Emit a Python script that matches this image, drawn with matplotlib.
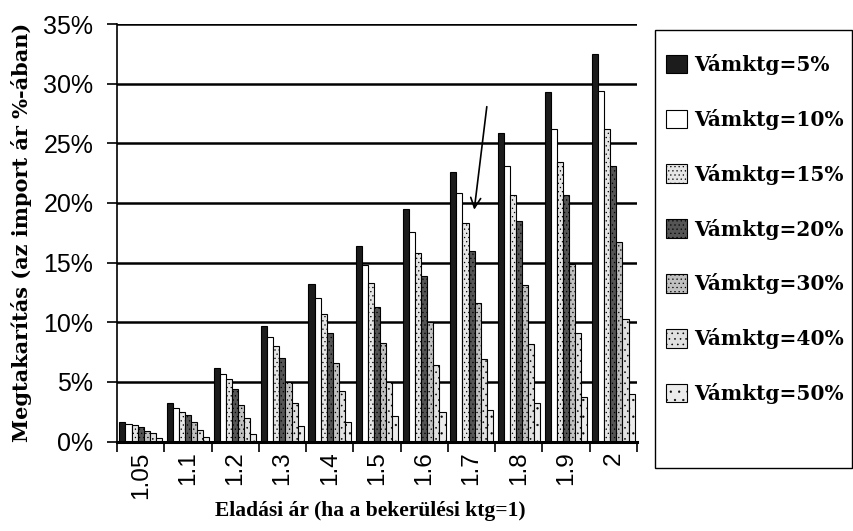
import numpy as np
import matplotlib
matplotlib.use('Agg')
import matplotlib.pyplot as plt
from matplotlib.patches import Rectangle
from matplotlib.ticker import FuncFormatter

# eladási ár (ha a bekerülési ktg=1)
prices = ['1.05', '1.1', '1.2', '1.3', '1.4', '1.5', '1.6', '1.7', '1.8', '1.9', '2']
tariffs = ['Vámktg=5%', 'Vámktg=10%', 'Vámktg=15%', 'Vámktg=20%',
           'Vámktg=30%', 'Vámktg=40%', 'Vámktg=50%']

# megtakarítás, az import ár %-ában
v05 = [1.6, 3.2, 6.2, 9.7, 13.2, 16.4, 19.5, 22.6, 25.9, 29.3, 32.5]
v10 = [1.45, 2.8, 5.7, 8.8, 12.0, 14.8, 17.6, 20.8, 23.1, 26.2, 29.4]
v15 = [1.35, 2.5, 5.2, 8.0, 10.7, 13.3, 15.8, 18.3, 20.7, 23.4, 26.2]
v20 = [1.2, 2.25, 4.4, 7.0, 9.1, 11.3, 13.9, 16.0, 18.5, 20.7, 23.1]
v30 = [0.85, 1.65, 3.1, 4.95, 6.6, 8.25, 10.0, 11.6, 13.1, 14.9, 16.7]
v40 = [0.7, 0.95, 2.0, 3.2, 4.2, 5.0, 6.4, 6.9, 8.2, 9.1, 10.3]
v50 = [0.3, 0.35, 0.65, 1.3, 1.65, 2.1, 2.5, 2.6, 3.2, 3.7, 4.0]
series = [v05, v10, v15, v20, v30, v40, v50]

# (facecolor, hatch) - imitating the old printer fill patterns
styles = [('#1c1c1c', None), ('white', None), ('#e6e6e6', '....'),
          ('#555555', '....'), ('#c0c0c0', '....'), ('#e0e0e0', '...'),
          ('#ebebeb', '..')]

plt.rcParams['hatch.linewidth'] = 0.4
serif = ['DejaVu Serif']
serif2 = ['Liberation Serif', 'DejaVu Serif']
sans = ['Liberation Sans', 'DejaVu Sans']

fig = plt.figure(figsize=(8.54, 5.31), dpi=100)
ax = fig.add_axes([117/854, 1-441.5/531, 520/854, 417.5/531])

x = np.arange(len(prices))
n = len(series)
w = 0.9/n
for i, (vals, lab, (fc, h)) in enumerate(zip(series, tariffs, styles)):
    ax.bar(x + (i - (n-1)/2)*w, vals, w, color=fc, hatch=h,
           edgecolor='black', linewidth=0.8, label=lab, zorder=3)

ax.set_xlim(-0.5, len(prices)-0.5)
ax.set_ylim(0, 35)
ax.set_yticks(np.arange(0, 36, 5))
ax.yaxis.set_major_formatter(FuncFormatter(lambda v, p: f'{v:.0f}%'))
ax.grid(axis='y', color='black', linewidth=1.8, zorder=0)
ax.set_axisbelow(True)
for s in ['top', 'right']:
    ax.spines[s].set_visible(False)
ax.spines['left'].set_linewidth(1.2)
ax.spines['bottom'].set_linewidth(2.2)
ax.spines['bottom'].set_zorder(4)

ax.set_xticks(x)
ax.set_xticklabels(prices, rotation=90, family=sans, fontsize=17.5)
ax.set_xticks(np.arange(-0.5, len(prices)), minor=True)
ax.tick_params(axis='x', which='major', length=0, pad=7)
ax.tick_params(axis='x', which='minor', length=7, width=1.2, color='black')
ax.tick_params(axis='y', length=7, width=1.2, pad=10, labelsize=18)
for t in ax.get_yticklabels():
    t.set_family(sans)

ax.set_xlabel('Eladási ár (ha a bekerülési ktg=1)', family=serif2,
              fontweight='bold', fontsize=15.5)
ax.xaxis.set_label_coords(0.487, -0.142)
ax.set_ylabel('Megtakarítás (az import ár %-ában)', family=serif,
              fontweight='bold', fontsize=15)
ax.yaxis.set_label_coords(-0.163, 0.5)

# arrow pointing at the 15% bar of the 1.7 group
k = prices.index('1.7')
ax.annotate('', xy=(k + 0.05, v15[k] + 0.9), xytext=(k + 0.33, v15[k] + 10),
            arrowprops=dict(arrowstyle='->', color='black', lw=1.2,
                            mutation_scale=18))

# legend box drawn separately (it is taller than its entries)
fig.patches.append(Rectangle((655/854, 1-468/531), 197/854, 438/531,
                             transform=fig.transFigure, fill=False,
                             edgecolor='black', linewidth=1.0))
leg = fig.legend(loc='upper left', bbox_to_anchor=(666/854, 1-54/531),
                 frameon=False, prop=dict(family=serif, weight='bold', size=14.5),
                 handlelength=1.05, handleheight=1.05, handletextpad=0.35,
                 labelspacing=1.68, borderpad=0, borderaxespad=0)

fig.savefig('out.png', dpi=100)
